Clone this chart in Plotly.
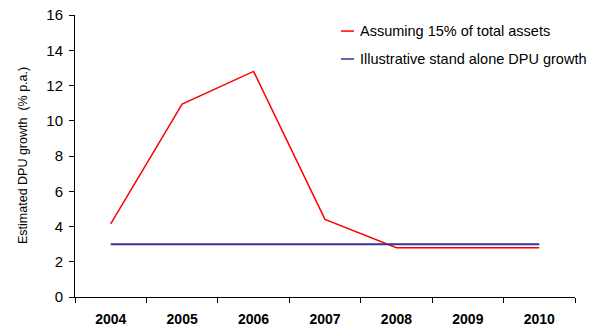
import plotly.graph_objects as go

years = ["2004", "2005", "2006", "2007", "2008", "2009", "2010"]
dpu_15pct = [4.15, 10.95, 12.8, 4.4, 2.8, 2.8, 2.8]
dpu_standalone = [3.0, 3.0, 3.0, 3.0, 3.0, 3.0, 3.0]

series_names = ["Assuming 15% of total assets", "Illustrative stand alone DPU growth"]
series_colors = ["#ff0000", "#333399"]

font_family = "Liberation Sans, Arial, sans-serif"

fig = go.Figure()
fig.add_trace(go.Scatter(
    x=years, y=dpu_15pct, mode="lines", name=series_names[0],
    line=dict(color=series_colors[0], width=1.5),
))
fig.add_trace(go.Scatter(
    x=years, y=dpu_standalone, mode="lines", name=series_names[1],
    line=dict(color=series_colors[1], width=2),
))

# Hand-built legend: short line sample plus label, in paper coordinates
legend_rows_y = [0.943, 0.844]
shapes = []
annotations = []
for name, color, yy in zip(series_names, series_colors, legend_rows_y):
    shapes.append(dict(type="line", xref="paper", yref="paper",
                       x0=0.532, x1=0.558, y0=yy, y1=yy,
                       line=dict(color=color, width=1.5)))
    annotations.append(dict(text=name, xref="paper", yref="paper",
                            x=0.566, y=yy, xanchor="left", yanchor="middle",
                            showarrow=False,
                            font=dict(size=14.5, family=font_family, color="#000000")))

# Y axis title
annotations.append(dict(text="Estimated DPU growth  (% p.a.)", xref="paper", yref="paper",
                        x=-0.104, y=0.5, xanchor="center", yanchor="middle",
                        textangle=-90, showarrow=False,
                        font=dict(size=12.5, family=font_family, color="#000000")))

fig.update_layout(
    width=592, height=329,
    margin=dict(l=75, r=17, t=15, b=32),
    paper_bgcolor="white", plot_bgcolor="white",
    font=dict(family=font_family, color="#000000"),
    showlegend=False,
    shapes=shapes,
    annotations=annotations,
    xaxis=dict(
        type="category",
        automargin=False,
        showline=True, linecolor="#000000", linewidth=1,
        ticks="outside", ticklen=5, tickcolor="#000000",
        tickson="boundaries",
        ticklabelstandoff=9,
        showgrid=False, zeroline=False,
        tickfont=dict(size=14, family=font_family, color="#000000", weight="bold"),
        range=[-0.5, 6.5],
    ),
    yaxis=dict(
        range=[0, 16], dtick=2,
        automargin=False,
        showline=True, linecolor="#000000", linewidth=1,
        ticks="outside", ticklen=5, tickcolor="#000000",
        ticklabelstandoff=3,
        showgrid=False, zeroline=False,
        tickfont=dict(size=15, color="#000000"),
    ),
)

fig.write_html("out.html")
